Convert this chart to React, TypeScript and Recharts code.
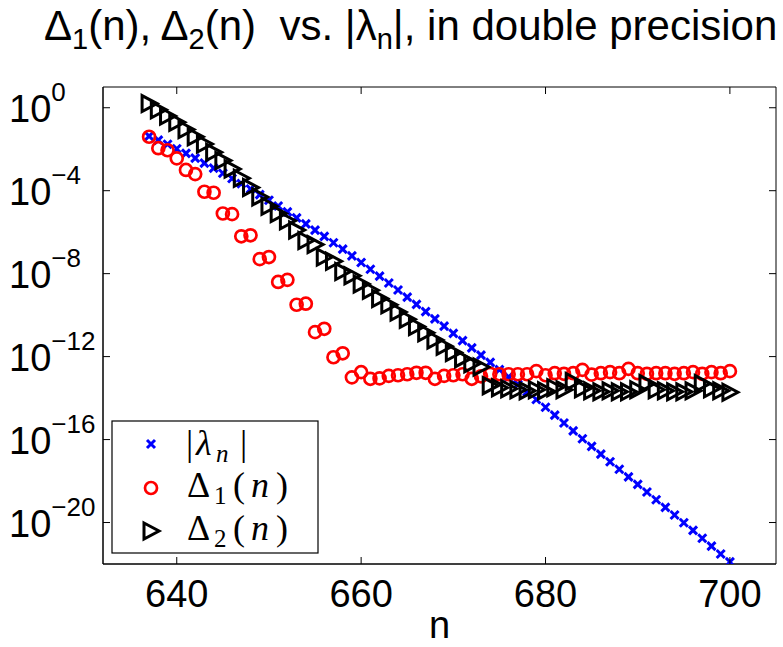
import { ScatterChart, Scatter, XAxis, YAxis, ReferenceArea } from "recharts";

// n values (x axis)
const nValues = [
  637, 638, 639, 640, 641, 642, 643, 644, 645, 646, 647, 648, 649, 650, 651, 652,
  653, 654, 655, 656, 657, 658, 659, 660, 661, 662, 663, 664, 665, 666, 667, 668,
  669, 670, 671, 672, 673, 674, 675, 676, 677, 678, 679, 680, 681, 682, 683, 684,
  685, 686, 687, 688, 689, 690, 691, 692, 693, 694, 695, 696, 697, 698, 699, 700,
];

// log10 of the plotted values
const lambdaExp = [
  -1.37, -1.56, -1.76, -1.98, -2.2, -2.43, -2.67, -2.91, -3.16, -3.41, -3.66, -3.92, -4.19, -4.46, -4.74, -5.02,
  -5.31, -5.6, -5.9, -6.2, -6.51, -6.82, -7.14, -7.46, -7.79, -8.12, -8.45, -8.79, -9.13, -9.48, -9.83, -10.18,
  -10.53, -10.88, -11.23, -11.58, -11.93, -12.28, -12.63, -12.98, -13.34, -13.7, -14.07, -14.44, -14.82, -15.2, -15.58, -15.96,
  -16.33, -16.7, -17.07, -17.43, -17.8, -18.16, -18.53, -18.9, -19.27, -19.64, -20.01, -20.38, -20.76, -21.14, -21.52, -21.9,
];

const delta1Exp = [
  -1.4, -1.95, -2.05, -2.44, -3.0, -3.2, -4.05, -4.1, -5.1, -5.13, -6.2, -6.15, -7.3, -7.2, -8.4, -8.3,
  -9.5, -9.45, -10.82, -10.66, -12.03, -11.84, -13.0, -12.75, -13.07, -13.05, -12.93, -12.9, -12.85, -12.78, -12.78, -13.07,
  -12.93, -12.9, -12.85, -13.07, -12.95, -12.83, -12.85, -12.85, -12.85, -12.85, -12.7, -12.9, -12.8, -12.83, -12.8, -12.64,
  -12.87, -12.8, -12.75, -12.8, -12.59, -12.8, -12.83, -12.8, -12.8, -12.83, -12.8, -12.75, -12.83, -12.75, -12.8, -12.7,
];

const delta2Exp = [
  0.2, -0.1, -0.4, -0.7, -1.05, -1.4, -1.75, -2.15, -2.55, -2.95, -3.4, -3.85, -4.3, -4.75, -5.1, -5.45,
  -5.9, -6.4, -6.6, -7.2, -7.4, -7.9, -8.1, -8.5, -8.8, -9.2, -9.5, -9.85, -10.2, -10.55, -10.85, -11.2,
  -11.5, -11.8, -12.1, -12.35, -12.5, -13.4, -13.5, -13.55, -13.6, -13.65, -13.6, -13.65, -13.5, -13.6, -13.2, -13.55,
  -13.65, -13.7, -13.65, -13.7, -13.7, -13.6, -13.3, -13.6, -13.65, -13.7, -13.7, -13.65, -13.3, -13.55, -13.65, -13.72,
];

const xTicks = [640, 660, 680, 700];
const yTicks = [1, 1e-4, 1e-8, 1e-12, 1e-16, 1e-20];

const toPoints = (exps: number[]) => nValues.map((n, i) => ({ n, v: Math.pow(10, exps[i]) }));
const lambdaData = toPoints(lambdaExp);
const delta1Data = toPoints(delta1Exp);
const delta2Data = toPoints(delta2Exp);

const W = 783;
const H = 647;
const PLOT_W = 673;
const PLOT_H = 477;
const SANS = "'Liberation Sans', Arial, Helvetica, sans-serif";
const SERIF = "'Liberation Serif', 'Times New Roman', serif";

const Cross = ({ cx, cy }: any) => (
  <path
    d={`M${cx - 4},${cy - 4}L${cx + 4},${cy + 4}M${cx - 4},${cy + 4}L${cx + 4},${cy - 4}`}
    stroke="#0000ff"
    strokeWidth={3}
    fill="none"
  />
);

const Circle = ({ cx, cy }: any) => (
  <circle cx={cx} cy={cy} r={6} stroke="#ff0000" strokeWidth={2.7} fill="none" />
);

const Tri = ({ cx, cy }: any) => (
  <path
    d={`M${cx - 7},${cy - 8}L${cx + 8},${cy}L${cx - 7},${cy + 8}Z`}
    stroke="#000"
    strokeWidth={3}
    strokeLinejoin="miter"
    fill="none"
  />
);

const YTick = ({ x, y, payload }: any) => {
  const exp = Math.round(Math.log10(payload.value));
  return (
    <g>
      <line x1={x} x2={x + 7} y1={y} y2={y} stroke="#000" />
      <line x1={x + PLOT_W - 7} x2={x + PLOT_W} y1={y} y2={y} stroke="#000" />
      <text x={x - 94} y={y + 14} fontSize={38} fontFamily={SANS} fill="#000">
        10
        <tspan dy={-21} fontSize={26}>
          {exp === 0 ? "0" : "\u2212" + Math.abs(exp)}
        </tspan>
      </text>
    </g>
  );
};

const XTick = ({ x, y, payload }: any) => (
  <g>
    <line x1={x} x2={x} y1={y} y2={y - 7} stroke="#000" />
    <line x1={x} x2={x} y1={y - PLOT_H} y2={y - PLOT_H + 7} stroke="#000" />
    <text x={x} y={y + 43} textAnchor="middle" fontSize={38} fontFamily={SANS} fill="#000">
      {payload.value}
    </text>
  </g>
);

export default function App() {
  return (
    <div style={{ position: "absolute", left: 0, top: 0, width: W, height: H, background: "#fff" }}>
      <ScatterChart width={W} height={H} margin={{ top: 87, right: 7, bottom: 0, left: 0 }}>
        <XAxis
          type="number"
          dataKey="n"
          domain={[632, 705]}
          ticks={xTicks}
          allowDataOverflow
          height={83}
          tickSize={0}
          tickMargin={0}
          tickLine={false}
          axisLine={{ stroke: "#000" }}
          tick={XTick}
        />
        <YAxis
          type="number"
          dataKey="v"
          scale="log"
          domain={[1e-22, 10]}
          ticks={yTicks}
          allowDataOverflow
          width={103}
          tickSize={0}
          tickMargin={0}
          tickLine={false}
          axisLine={{ stroke: "#000" }}
          tick={YTick}
        />
        <ReferenceArea x1={632} x2={705} y1={1e-22} y2={10} fill="none" stroke="#000" strokeWidth={1} />
        <Scatter data={lambdaData} shape={Cross} isAnimationActive={false} />
        <Scatter data={delta1Data} shape={Circle} isAnimationActive={false} />
        <Scatter data={delta2Data} shape={Tri} isAnimationActive={false} />
      </ScatterChart>
      <svg
        width={W}
        height={H}
        style={{ position: "absolute", left: 0, top: 0, pointerEvents: "none" }}
      >
        <text x={44} y={40} fontSize={42} fontFamily={SANS} fill="#000">
          Δ<tspan dy={9} fontSize={29}>1</tspan>
          <tspan dy={-9}>(n), Δ</tspan>
          <tspan dy={9} fontSize={29}>2</tspan>
          <tspan dy={-9}>{"(n)\u00A0\u00A0vs. |λ"}</tspan>
          <tspan dy={9} fontSize={29}>n</tspan>
          <tspan dy={-9}>|, in double precision</tspan>
        </text>
        <text x={439.5} y={638} textAnchor="middle" fontSize={38} fontFamily={SANS} fill="#000">
          n
        </text>
        <rect x={112} y={421} width={206} height={132} fill="#fff" stroke="#000" strokeWidth={1.2} />
        <Cross cx={151} cy={444} />
        <Circle cx={151} cy={488} />
        <Tri cx={151} cy={531} />
        <text y={455} fontSize={36} fontFamily={SERIF} fill="#000">
          <tspan x={186}>|</tspan>
          <tspan x={196} fontStyle="italic">λ</tspan>
          <tspan x={216} dy={7} fontSize={25} fontStyle="italic">n</tspan>
          <tspan x={240} dy={-7}>|</tspan>
        </text>
        <text y={497} fontSize={36} fontFamily={SERIF} fill="#000">
          <tspan x={187}>Δ</tspan>
          <tspan x={214} dy={7} fontSize={25}>1</tspan>
          <tspan x={233} dy={-7}>(</tspan>
          <tspan x={251} fontStyle="italic">n</tspan>
          <tspan x={276}>)</tspan>
        </text>
        <text y={540} fontSize={36} fontFamily={SERIF} fill="#000">
          <tspan x={187}>Δ</tspan>
          <tspan x={214} dy={7} fontSize={25}>2</tspan>
          <tspan x={233} dy={-7}>(</tspan>
          <tspan x={251} fontStyle="italic">n</tspan>
          <tspan x={276}>)</tspan>
        </text>
      </svg>
    </div>
  );
}
